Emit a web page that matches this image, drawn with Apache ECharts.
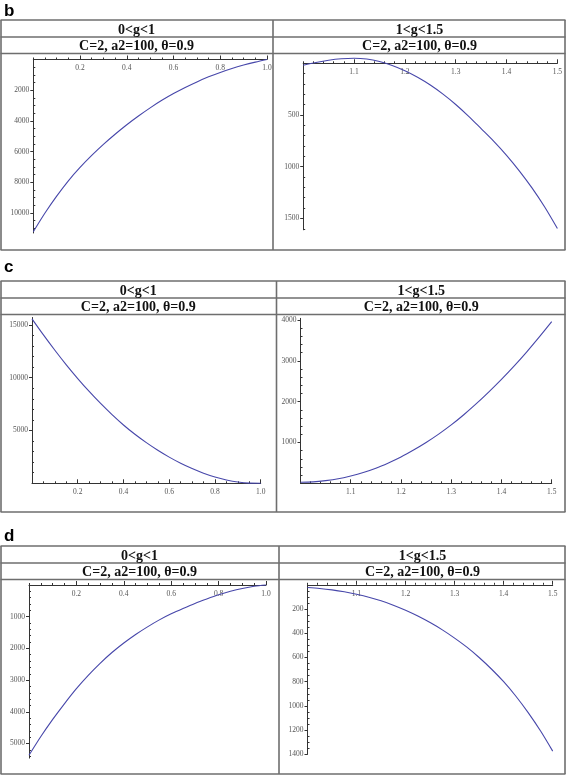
<!DOCTYPE html>
<html><head><meta charset="utf-8">
<script src="https://cdn.jsdelivr.net/npm/echarts@6/dist/echarts.min.js"></script>
<style>html,body{margin:0;padding:0;background:#fff}#chart{width:566px;height:776px}</style>
</head><body><div id="chart"></div>
<script>
// ---------------- DATA ----------------
const panelLabels = ['b', 'c', 'd'];
const columnTitles = ['0<g<1', '1<g<1.5'];
const paramTitle = 'C=2, a2=100, \u03b8=0.9';

const gLeft = [0, 0.05, 0.10, 0.15, 0.20, 0.25, 0.30, 0.35, 0.40, 0.45, 0.50, 0.55, 0.60, 0.65, 0.70, 0.75, 0.80, 0.85, 0.90, 0.95, 1.00];
const gRight = [1.000, 1.025, 1.050, 1.075, 1.100, 1.125, 1.150, 1.175, 1.200, 1.225, 1.250, 1.275, 1.300, 1.325, 1.350, 1.375, 1.400, 1.425, 1.450, 1.475, 1.500];

const bLeftValues = [11220, 10000, 8900, 7900, 7030, 6250, 5530, 4870, 4250, 3680, 3150, 2660, 2220, 1820, 1460, 1130, 840, 580, 360, 170, 0];
const bRightValues = [19, -8, -30, -44, -49, -41, -17, 21, 72, 135, 210, 298, 398, 510, 632, 755, 890, 1040, 1205, 1390, 1598];
const cLeftValues = [15570, 14050, 12600, 11220, 9920, 8700, 7560, 6500, 5520, 4640, 3850, 3130, 2480, 1900, 1400, 960, 600, 320, 120, 20, 10];
const cRightValues = [25, 35, 65, 110, 180, 265, 370, 500, 645, 815, 1000, 1205, 1430, 1680, 1950, 2240, 2545, 2870, 3215, 3580, 3960];
const dLeftValues = [5370, 4780, 4240, 3740, 3270, 2850, 2470, 2130, 1830, 1560, 1320, 1100, 910, 740, 580, 440, 310, 200, 110, 40, 0];
const dRightValues = [22, 30, 42, 58, 78, 102, 132, 168, 210, 258, 312, 372, 440, 515, 600, 695, 800, 920, 1055, 1205, 1373];

const xTicksLeft = [0.2, 0.4, 0.6, 0.8, 1.0];
const xTicksRight = [1.1, 1.2, 1.3, 1.4, 1.5];
const bLeftYTicks = [2000, 4000, 6000, 8000, 10000];
const bRightYTicks = [500, 1000, 1500];
const cLeftYTicks = [5000, 10000, 15000];
const cRightYTicks = [1000, 2000, 3000, 4000];
const dLeftYTicks = [1000, 2000, 3000, 4000, 5000];
const dRightYTicks = [200, 400, 600, 800, 1000, 1200, 1400];

// ---------------- LAYOUT ----------------
function steps(a, b, step) {
  const out = [];
  for (let k = Math.round(a / step); k * step <= b + 1e-9; k++) out.push(+(k * step).toFixed(6));
  return out;
}
const boxes = [
  {top: 20, bottom: 250, div: 273, labelY: 11},
  {top: 281, bottom: 512, div: 276.5, labelY: 267},
  {top: 546, bottom: 774, div: 279, labelY: 536}
];
const plots = [
  {g: gLeft, v: bLeftValues, left: 33.3, width: 233.7, top: 59.5, height: 173.5, xMin: 0, xMax: 1, yMin: 0, yMax: 11300, inverse: true,
   xTicks: xTicksLeft, yTicks: bLeftYTicks, xMinorStep: 0.05, yMinorStep: 500},
  {g: gRight, v: bRightValues, left: 303.2, width: 254.2, top: 63.3, height: 166.5, xMin: 1, xMax: 1.5, yMin: 0, yMax: 1610, inverse: true,
   xTicks: xTicksRight, yTicks: bRightYTicks, xMinorStep: 0.02, yMinorStep: 100},
  {g: gLeft, v: cLeftValues, left: 32, width: 228.7, top: 317.5, height: 165.8, xMin: 0, xMax: 1, yMin: 0, yMax: 15700, inverse: false,
   xTicks: xTicksLeft, yTicks: cLeftYTicks, xMinorStep: 0.05, yMinorStep: 1000},
  {g: gRight, v: cRightValues, left: 300.5, width: 251.2, top: 318.35, height: 164.95, xMin: 1, xMax: 1.5, yMin: 0, yMax: 4040, inverse: false,
   xTicks: xTicksRight, yTicks: cRightYTicks, xMinorStep: 0.02, yMinorStep: 200},
  {g: gLeft, v: dLeftValues, left: 29, width: 237, top: 585, height: 173.1, xMin: 0, xMax: 1, yMin: 0, yMax: 5460, inverse: true,
   xTicks: xTicksLeft, yTicks: dLeftYTicks, xMinorStep: 0.05, yMinorStep: 200},
  {g: gRight, v: dRightValues, left: 307.5, width: 245.2, top: 584.8, height: 169.6, xMin: 1, xMax: 1.5, yMin: 0, yMax: 1400, inverse: true,
   xTicks: xTicksRight, yTicks: dRightYTicks, xMinorStep: 0.02, yMinorStep: 50}
];

const axisColor = '#333';
const labelFont = {fontSize: 7.5, fontFamily: 'Liberation Serif', color: '#555'};
const grids = [], xAxes = [], yAxes = [], series = [];
const minorX = [], minorY = [];

plots.forEach((p, i) => {
  grids.push({left: p.left, top: p.top, width: p.width, height: p.height, containLabel: false, outerBoundsMode: 'none'});
  const xMinor = steps(p.xMin, p.xMax, p.xMinorStep).filter(v => !p.xTicks.some(t => Math.abs(t - v) < 1e-6));
  const yMinor = steps(p.yMin, p.yMax, p.yMinorStep).filter(v => !p.yTicks.some(t => Math.abs(t - v) < 1e-6));
  // x axis sits on the zero line: top of grid when the value axis is inverted, bottom otherwise
  const xPos = p.inverse ? 'top' : 'bottom';
  const tickIn = !p.inverse; // ticks always point upward
  xAxes.push({
    type: 'value', gridIndex: i, min: p.xMin, max: p.xMax, position: xPos,
    axisLine: {show: true, onZero: false, lineStyle: {color: axisColor, width: 1}},
    axisTick: {show: true, inside: tickIn, length: 4, customValues: p.xTicks, lineStyle: {color: axisColor, width: 1}},
    axisLabel: Object.assign({show: true, inside: p.inverse, customValues: p.xTicks, margin: 5, formatter: v => v.toFixed(1)}, labelFont),
    splitLine: {show: false}
  });
  yAxes.push({
    type: 'value', gridIndex: i, min: p.yMin, max: p.yMax, inverse: p.inverse, position: 'left',
    axisLine: {show: true, onZero: false, lineStyle: {color: axisColor, width: 1}},
    axisTick: {show: true, inside: false, length: 3, customValues: p.yTicks, lineStyle: {color: axisColor, width: 1}},
    axisLabel: Object.assign({show: true, customValues: p.yTicks, margin: 4, formatter: v => String(v)}, labelFont),
    splitLine: {show: false}
  });
  minorX.push({
    type: 'value', gridIndex: i, min: p.xMin, max: p.xMax, position: xPos,
    axisLine: {show: false, onZero: false},
    axisTick: {show: true, inside: tickIn, length: 2, customValues: xMinor, lineStyle: {color: axisColor, width: 1}},
    axisLabel: {show: false}, splitLine: {show: false}
  });
  minorY.push({
    type: 'value', gridIndex: i, min: p.yMin, max: p.yMax, inverse: p.inverse, position: 'left',
    axisLine: {show: false, onZero: false},
    axisTick: {show: true, inside: true, length: 2, customValues: yMinor, lineStyle: {color: axisColor, width: 1}},
    axisLabel: {show: false}, splitLine: {show: false}
  });
  series.push({
    type: 'line', xAxisIndex: i, yAxisIndex: i,
    data: p.g.map((x, j) => [x, p.v[j]]),
    showSymbol: false, smooth: 0.3, clip: false,
    lineStyle: {color: '#4747aa', width: 1.1}, silent: true
  });
});

// table frames & titles
const frameColor = '#6e6e6e';
const graphics = [];
function hline(x1, x2, y) { graphics.push({type: 'line', shape: {x1, y1: y, x2, y2: y}, style: {stroke: frameColor, lineWidth: 1.6}}); }
function vline(x, y1, y2) { graphics.push({type: 'line', shape: {x1: x, y1, x2: x, y2}, style: {stroke: frameColor, lineWidth: 1.6}}); }
boxes.forEach((b, k) => {
  hline(0.5, 565.5, b.top); hline(0.5, 565.5, b.top + 17); hline(0.5, 565.5, b.top + 33.5); hline(0.5, 565.5, b.bottom);
  vline(1, b.top, b.bottom); vline(565, b.top, b.bottom); vline(b.div, b.top, b.bottom);
  const centers = [b.div / 2, (b.div + 566) / 2];
  centers.forEach((cx, c) => {
    graphics.push({type: 'text', x: cx, y: b.top + 10.3, style: {text: columnTitles[c], font: 'bold 14px "Liberation Serif"', fill: '#111', textAlign: 'center', textVerticalAlign: 'middle'}});
    graphics.push({type: 'text', x: cx, y: b.top + 26.8, style: {text: paramTitle, font: 'bold 14px "Liberation Serif"', fill: '#111', textAlign: 'center', textVerticalAlign: 'middle'}});
  });
  graphics.push({type: 'text', x: 4, y: b.labelY, style: {text: panelLabels[k], font: 'bold 17px "Liberation Sans"', fill: '#000', textAlign: 'left', textVerticalAlign: 'middle'}});
});

const chart = echarts.init(document.getElementById('chart'), null, {renderer: 'canvas'});
chart.setOption({
  animation: false,
  backgroundColor: '#fff',
  grid: grids,
  xAxis: xAxes.concat(minorX),
  yAxis: yAxes.concat(minorY),
  series: series,
  graphic: graphics
});
</script></body></html>
